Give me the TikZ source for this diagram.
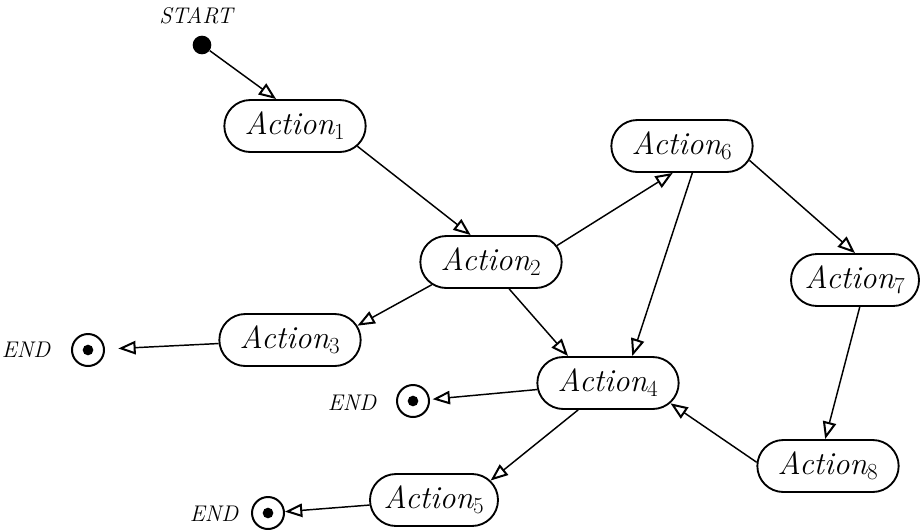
\documentclass[tikz,border=0pt]{standalone}
\usetikzlibrary{arrows.meta,shapes.misc}
\begin{document}
\begin{tikzpicture}[x=0.75pt,y=-0.75pt,
  act/.style={draw,line width=1.4pt,rounded rectangle,minimum width=110pt,minimum height=39pt,inner sep=2pt,font=\fontsize{24}{28}\selectfont\itshape},
  flow/.style={line width=1.1pt,-{Triangle[open,length=13pt,width=10pt,line width=1.5pt]}},
  endnode/.style={draw,circle,line width=1.5pt,minimum size=24pt,inner sep=0pt,path picture={\fill (path picture bounding box.center) circle (4pt);}},
  lbl/.style={font=\fontsize{17}{20}\selectfont\itshape}]
\useasboundingbox (0,0) rectangle (923,529);
\node[lbl] (startlbl) at (196,16) {START};
\node[circle,fill,minimum size=14pt,inner sep=0pt] (start) at (202,45) {};
\node[act] (a1) at (295,126) {Action$_1$};
\node[act] (a2) at (491,262) {Action$_2$};
\node[act] (a3) at (290,340) {Action$_3$};
\node[act] (a4) at (608,383) {Action$_4$};
\node[act,minimum width=100pt] (a5) at (434,500) {Action$_5$};
\node[act] (a6) at (682,146) {Action$_6$};
\node[act,minimum width=100pt] (a7) at (855,280) {Action$_7$};
\node[act] (a8) at (828,466) {Action$_8$};
\node[endnode] (e1) at (88,350) {};
\node[lbl] (e1lbl) at (26,350) {END};
\node[endnode] (e2) at (413,401) {};
\node[lbl] (e2lbl) at (352,403) {END};
\node[endnode] (e3) at (268,513) {};
\node[lbl] (e3lbl) at (214,514) {END};
\draw[flow] (start) -- (a1.125);
\draw[flow] (a1.-18) -- (a2.127);
\draw[flow] (a2.14) -- (a6.-109);
\draw[flow] (a2.-159) -- (a3.12);
\draw[flow,shorten >=10pt] (a3) -- (e1);
\draw[flow] (a2.-56) -- (a4.146);
\draw[flow] (a6.-69) -- (a4.48);
\draw[flow] (a6.-12) -- (a7.north);
\draw[flow] (a7.-80) -- (a8.96);
\draw[flow] (a8.177) -- (a4.-18);
\draw[flow,shorten >=2pt] (a4) -- (e2);
\draw[flow] (a4.-138) -- (a5.19);
\draw[flow] (a5) -- (e3);
\end{tikzpicture}
\end{document}
